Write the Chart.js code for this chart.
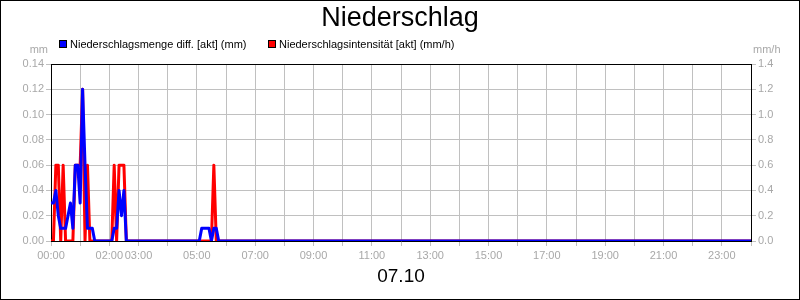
<!DOCTYPE html>
<html>
<head>
<meta charset="utf-8">
<script src="https://cdn.jsdelivr.net/npm/chart.js@4/dist/chart.umd.min.js"></script>
<style>
  html, body { margin: 0; padding: 0; background: #fff; }
  #chart { display: block; }
</style>
</head>
<body>
<canvas id="chart" width="800" height="300"></canvas>
<script>
// 5-minute readings, zero stretches are left out (line stays on 0 between them)
const times = [
  '00:00','00:05','00:10','00:15','00:20','00:25','00:30','00:35','00:40','00:45','00:50','00:55',
  '01:00','01:05','01:10','01:15','01:20','01:25','01:30','01:35','01:40','01:45','01:50','01:55',
  '02:00','02:05','02:10','02:15','02:20','02:25','02:30','02:35','02:40',
  '05:00','05:05','05:10','05:15','05:20','05:25','05:30','05:35','05:40','05:45',
  '24:00'
];
const mengeMm = [
  0.03,0.03,0.04,0.02,0.01,0.01,0.01,0.02,0.03,0.01,0.06,0.06,
  0.03,0.12,0.06,0.01,0.01,0.01,0,0,0,0,0,0,
  0,0,0.01,0.01,0.04,0.02,0.04,0,0,
  0,0,0.01,0.01,0.01,0.01,0,0.01,0.01,0,
  0
];
const intensitaetMmH = [
  0,0,0.6,0.6,0,0.6,0,0,0,0,0.6,0.6,
  0.6,1.2,0,0.6,0,0,0,0,0,0,0,0,
  0,0,0.6,0,0.6,0.6,0.6,0,0,
  0,0,0,0,0,0,0,0.6,0,0,
  0
];
const seriesLabels = ['Niederschlagsmenge diff. [akt] (mm)', 'Niederschlagsintensität [akt] (mm/h)'];
const seriesColors = ['#0000ff', '#ff0000'];
const xTickHours = [0, 2, 3, 5, 7, 9, 11, 13, 15, 17, 19, 21, 23];
const titleText = 'Niederschlag';
const dateText = '07.10';
const unitLeft = 'mm';
const unitRight = 'mm/h';

const FONT = "'Liberation Sans', Arial, sans-serif";
const GRID = '#c0c0c0';
const TICK = '#a8a8a8';

Chart.defaults.font.family = FONT;

const toMin = t => { const [h, m] = t.split(':').map(Number); return h * 60 + m; };
const toPoints = vals => vals.map((v, i) => ({ x: toMin(times[i]), y: v }));
const pad2 = n => String(n).padStart(2, '0');

// border, legend and unit captions
const frame = {
  id: 'frame',
  afterDraw(chart) {
    const { ctx, chartArea: a } = chart;
    ctx.save();
    ctx.strokeStyle = '#000';
    ctx.lineWidth = 1;
    ctx.beginPath();
    ctx.moveTo(a.left, Math.round(a.top) + 0.5);
    ctx.lineTo(a.right, Math.round(a.top) + 0.5);
    ctx.stroke();
    ctx.strokeRect(0.5, 0.5, chart.width - 1, chart.height - 1);

    ctx.font = '11px ' + FONT;
    ctx.textBaseline = 'alphabetic';
    const boxX = [59, 268];
    chart.data.datasets.forEach((ds, i) => {
      ctx.fillStyle = ds.borderColor;
      ctx.fillRect(boxX[i], 40, 7, 7);
      ctx.strokeRect(boxX[i] + 0.5, 40.5, 7, 7);
      ctx.fillStyle = '#000';
      ctx.textAlign = 'left';
      ctx.fillText(ds.label, boxX[i] + 11, 48);
    });

    ctx.fillStyle = TICK;
    ctx.textAlign = 'right';
    ctx.fillText(unitLeft, 48, 53);
    ctx.textAlign = 'left';
    ctx.fillText(unitRight, 753, 53);
    ctx.restore();
  }
};

new Chart(document.getElementById('chart'), {
  type: 'line',
  data: {
    datasets: [
      { label: seriesLabels[0], data: toPoints(mengeMm), yAxisID: 'yMm',
        borderColor: seriesColors[0], backgroundColor: seriesColors[0],
        borderWidth: 3, pointRadius: 0, tension: 0, borderJoinStyle: 'round' },
      { label: seriesLabels[1], data: toPoints(intensitaetMmH), yAxisID: 'yMmH',
        borderColor: seriesColors[1], backgroundColor: seriesColors[1],
        borderWidth: 3, pointRadius: 0, tension: 0, borderJoinStyle: 'round' }
    ]
  },
  options: {
    responsive: false,
    animation: false,
    devicePixelRatio: 1,
    layout: { padding: 0 },
    plugins: {
      legend: { display: false },
      tooltip: { enabled: false },
      title: {
        display: true, text: titleText, color: '#000',
        font: { size: 27, weight: 'normal', lineHeight: '30px' },
        padding: { top: 4, bottom: 30 }
      }
    },
    scales: {
      x: {
        type: 'linear', min: 0, max: 1440,
        afterFit: s => { s.height = 59; },
        grid: { color: GRID, tickColor: GRID, tickLength: 5 },
        border: { color: '#000' },
        ticks: {
          stepSize: 60, autoSkip: false, maxRotation: 0, color: TICK, padding: 3,
          font: { size: 11 },
          callback: v => xTickHours.includes(v / 60) ? pad2(v / 60) + ':00' : ''
        },
        title: {
          display: true, text: dateText, color: '#000',
          font: { size: 19, lineHeight: '20px' }, padding: { bottom: 13 }
        }
      },
      yMm: {
        position: 'left', min: 0, max: 0.14,
        afterFit: s => { s.width = 51; },
        grid: { color: GRID, tickColor: GRID, tickLength: 5 },
        border: { color: '#000' },
        ticks: { stepSize: 0.02, color: TICK, padding: 2, font: { size: 11 },
                 callback: v => v.toFixed(2) }
      },
      yMmH: {
        position: 'right', min: 0, max: 1.4,
        afterFit: s => { s.width = 49; },
        grid: { drawOnChartArea: false, tickColor: GRID, tickLength: 5 },
        border: { color: '#000' },
        ticks: { stepSize: 0.2, color: TICK, padding: 2, font: { size: 11 },
                 callback: v => v.toFixed(1) }
      }
    }
  },
  plugins: [frame]
});
</script>
</body>
</html>
